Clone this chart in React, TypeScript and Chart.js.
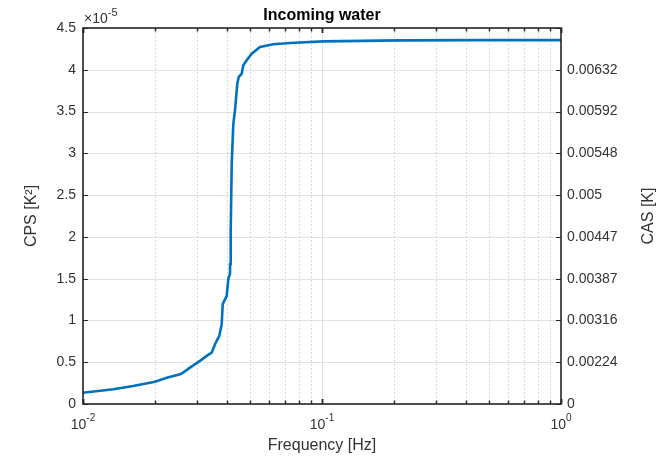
import React, { useEffect, useRef } from "react";
import { Chart, registerables } from "chart.js";

Chart.register(...registerables);

// Frequency axis (Hz) and cross power spectrum values (in units of 1e-5 K^2)
const freqHz = [
  0.01, 0.0134, 0.0162, 0.02, 0.0224, 0.02546, 0.0265, 0.02804, 0.03087, 0.03293,
  0.03455, 0.03567, 0.03718, 0.03805, 0.03842, 0.03993, 0.04055, 0.04121,
  0.04125, 0.0415, 0.0419, 0.04256, 0.04325, 0.04367, 0.04422, 0.04482,
  0.04613, 0.04685, 0.04841, 0.0508, 0.05503, 0.06255, 0.07345, 0.1013,
  0.212, 0.45, 1.0,
];
const cpsE5 = [
  0.135, 0.176, 0.216, 0.267, 0.315, 0.356, 0.385, 0.435, 0.516, 0.576, 0.615,
  0.716, 0.815, 0.955, 1.195, 1.295, 1.495, 1.555, 1.675, 2.074, 2.874,
  3.354, 3.513, 3.653, 3.833, 3.913, 3.953, 4.053, 4.113, 4.193, 4.272,
  4.305, 4.32, 4.34, 4.352, 4.355, 4.355,
];
const yTicks = [0, 0.5, 1, 1.5, 2, 2.5, 3, 3.5, 4, 4.5];
const xMajorTicks = [0.01, 0.1, 1];
const xExponents = ["-2", "-1", "0"];

const titleText = "Incoming water";
const xTitle = "Frequency [Hz]";
const yTitle = "CPS [K\u00B2]";
const y2Title = "CAS [K]";
const expLabel = "-5";

const FONT = "'Liberation Sans', Arial, Helvetica, sans-serif";
const AX = "#262626";
const TXT = "#333333";

const matlabPlugin = {
  id: "matlab",
  beforeDatasetsDraw(chart: any) {
    const { ctx, chartArea: a, scales } = chart;
    const x = scales.x;
    const y = scales.y;
    ctx.save();
    ctx.lineWidth = 1;
    ctx.strokeStyle = "#e2e2e2";
    for (const v of yTicks) {
      const py = Math.round(y.getPixelForValue(v)) + 0.5;
      ctx.beginPath();
      ctx.moveTo(a.left, py);
      ctx.lineTo(a.right, py);
      ctx.stroke();
    }
    for (let d = -2; d < 0; d++) {
      for (let k = 1; k <= 9; k++) {
        const f = k * Math.pow(10, d);
        const px = Math.round(x.getPixelForValue(f)) + 0.5;
        ctx.beginPath();
        if (k === 1) {
          ctx.setLineDash([]);
          ctx.strokeStyle = "#e2e2e2";
        } else {
          ctx.setLineDash([1.5, 2.5]);
          ctx.strokeStyle = "#cfcfcf";
        }
        ctx.moveTo(px, a.top);
        ctx.lineTo(px, a.bottom);
        ctx.stroke();
      }
    }
    ctx.restore();
  },
  afterDatasetsDraw(chart: any) {
    const { ctx, chartArea: a, scales } = chart;
    const x = scales.x;
    const y = scales.y;
    ctx.save();
    ctx.setLineDash([]);
    ctx.strokeStyle = AX;
    ctx.lineWidth = 1.6;
    ctx.strokeRect(a.left, a.top, a.right - a.left, a.bottom - a.top);
    ctx.lineWidth = 1.2;
    for (const v of yTicks) {
      const py = Math.round(y.getPixelForValue(v)) + 0.5;
      ctx.beginPath();
      ctx.moveTo(a.left, py);
      ctx.lineTo(a.left + 5, py);
      ctx.moveTo(a.right, py);
      ctx.lineTo(a.right - 5, py);
      ctx.stroke();
    }
    for (let d = -2; d <= 0; d++) {
      for (let k = 1; k <= 9; k++) {
        const f = k * Math.pow(10, d);
        if (f > 1.0001) break;
        const px = Math.round(x.getPixelForValue(f)) + 0.5;
        const len = k === 1 ? 5 : 3.5;
        ctx.lineWidth = k === 1 ? 1.8 : 1.4;
        ctx.beginPath();
        ctx.moveTo(px, a.bottom);
        ctx.lineTo(px, a.bottom - len);
        ctx.moveTo(px, a.top);
        ctx.lineTo(px, a.top + len);
        ctx.stroke();
      }
    }
    ctx.fillStyle = TXT;
    ctx.textBaseline = "alphabetic";
    xMajorTicks.forEach((f, i) => {
      const px = x.getPixelForValue(f);
      ctx.font = `14px ${FONT}`;
      const w1 = ctx.measureText("10").width;
      ctx.font = `10px ${FONT}`;
      const w2 = ctx.measureText(xExponents[i]).width;
      const left = px - (w1 + w2) / 2;
      ctx.textAlign = "left";
      ctx.font = `14px ${FONT}`;
      ctx.fillText("10", left, 429);
      ctx.font = `10px ${FONT}`;
      ctx.fillText(xExponents[i], left + w1, 421);
    });
    ctx.textAlign = "left";
    ctx.font = `14px ${FONT}`;
    const t1 = "\u00D710";
    ctx.fillText(t1, a.left + 1, 23);
    const tw = ctx.measureText(t1).width;
    ctx.font = `11px ${FONT}`;
    ctx.fillText(expLabel, a.left + 1 + tw, 16);
    ctx.textAlign = "center";
    ctx.font = `bold 16px ${FONT}`;
    ctx.fillStyle = "#000";
    ctx.fillText(titleText, (a.left + a.right) / 2, 20);
    ctx.fillStyle = TXT;
    ctx.font = `16px ${FONT}`;
    ctx.fillText(xTitle, (a.left + a.right) / 2, 450);
    ctx.textBaseline = "middle";
    const cy = (a.top + a.bottom) / 2;
    ctx.save();
    ctx.translate(32, cy);
    ctx.rotate(-Math.PI / 2);
    ctx.fillText(yTitle, 0, 0);
    ctx.restore();
    ctx.save();
    ctx.translate(649, cy);
    ctx.rotate(-Math.PI / 2);
    ctx.fillText(y2Title, 0, 0);
    ctx.restore();
    ctx.restore();
  },
};

export default function App() {
  const ref = useRef<HTMLCanvasElement>(null);
  useEffect(() => {
    if (!ref.current) return;
    const chart = new Chart(ref.current, {
      type: "line",
      data: {
        datasets: [
          {
            data: freqHz.map((f, i) => ({ x: f, y: cpsE5[i] })),
            borderColor: "#0072BD",
            borderWidth: 2.6,
            pointRadius: 0,
            tension: 0,
            fill: false,
          },
        ],
      },
      options: {
        animation: false,
        responsive: false,
        events: [],
        layout: { padding: { top: 28, left: 0, right: 0, bottom: 0 } },
        plugins: {
          legend: { display: false },
          tooltip: { enabled: false },
          title: { display: false },
        },
        scales: {
          x: {
            type: "logarithmic",
            min: 0.01,
            max: 1,
            ticks: { display: false },
            grid: { display: false },
            border: { display: false },
            afterFit(s: any) {
              s.height = 52;
            },
          },
          y: {
            position: "left",
            min: 0,
            max: 4.5,
            afterBuildTicks(s: any) {
              s.ticks = yTicks.map((v) => ({ value: v }));
            },
            ticks: {
              padding: 7,
              color: TXT,
              font: { family: FONT, size: 14 },
              callback: (v: any) => String(v),
            },
            grid: { display: false, drawTicks: false },
            border: { display: false },
            afterFit(s: any) {
              s.width = 83;
            },
          },
          y2: {
            position: "right",
            min: 0,
            max: 4.5,
            afterBuildTicks(s: any) {
              s.ticks = yTicks.filter((v) => v <= 4).map((v) => ({ value: v }));
            },
            ticks: {
              padding: 6,
              color: TXT,
              font: { family: FONT, size: 14 },
              callback: (v: any) =>
                v === 0 ? "0" : String(Number(Math.sqrt(v * 1e-5).toPrecision(3))),
            },
            grid: { display: false, drawTicks: false },
            border: { display: false },
            afterFit(s: any) {
              s.width = 98;
            },
          },
        },
      } as any,
      plugins: [matlabPlugin],
    });
    return () => chart.destroy();
  }, []);
  return (
    <div style={{ position: "absolute", left: 0, top: 0, width: 659, height: 456, background: "#fff" }}>
      <canvas ref={ref} width={659} height={456} />
    </div>
  );
}
